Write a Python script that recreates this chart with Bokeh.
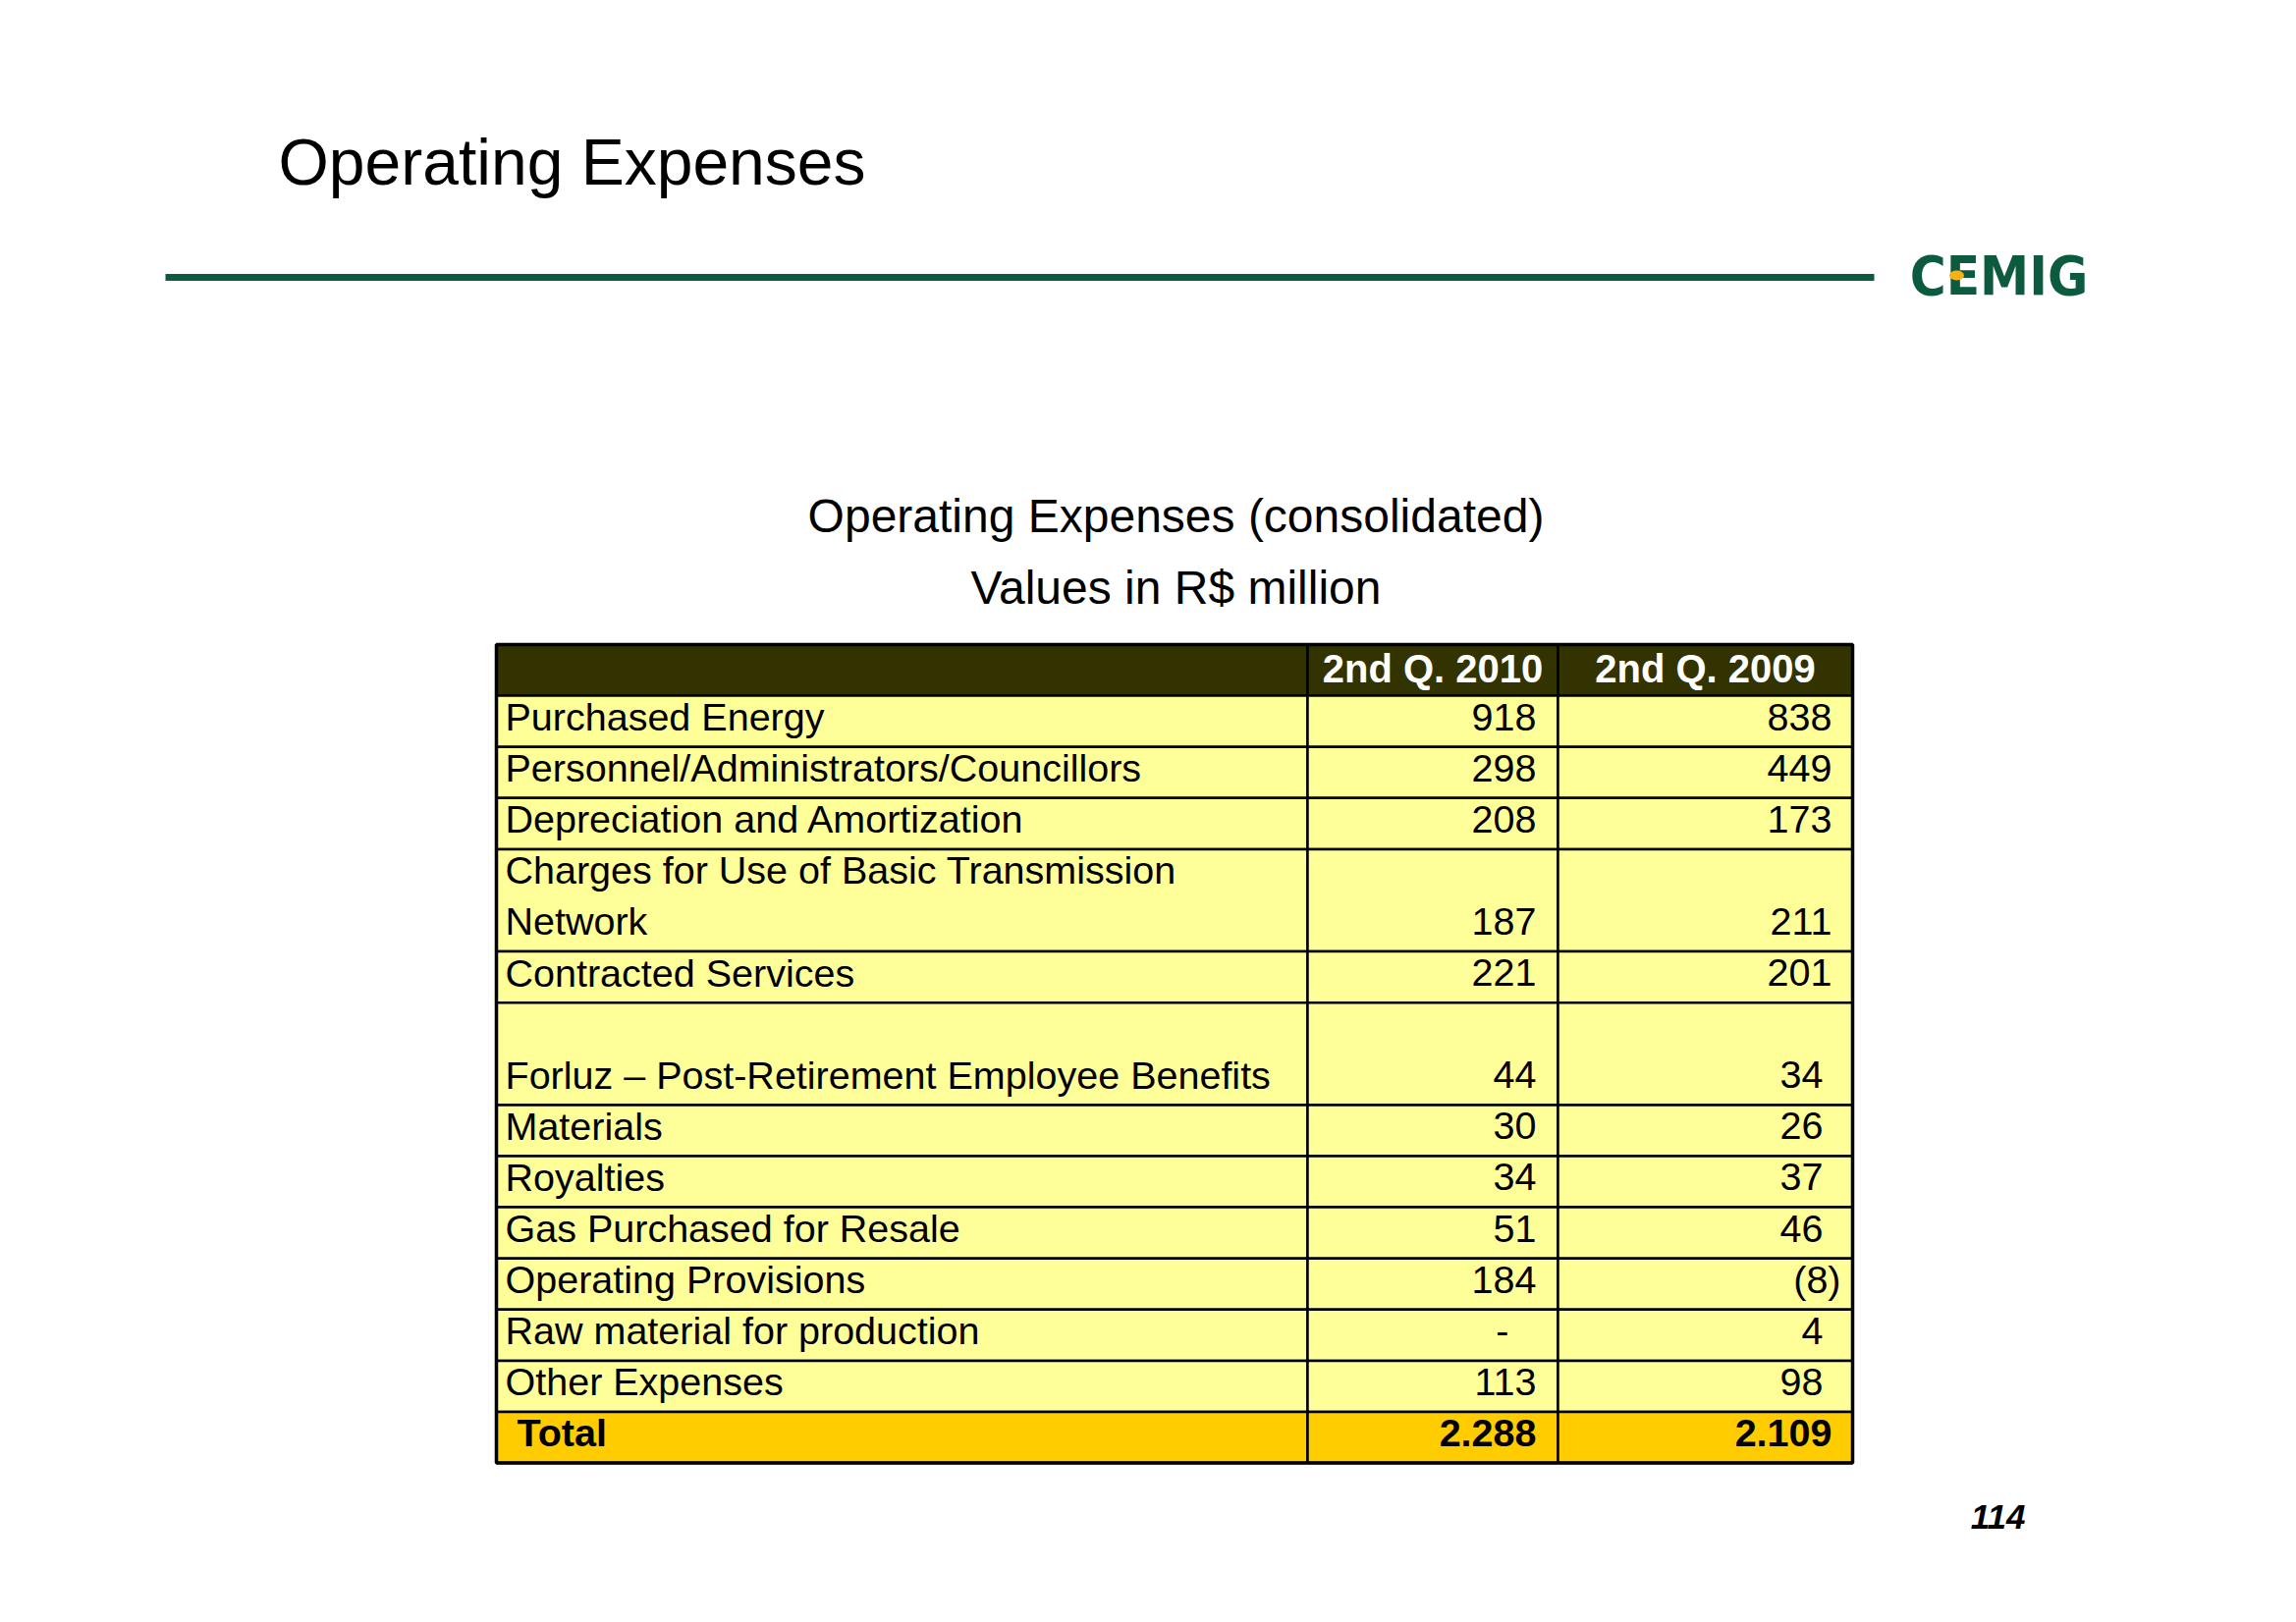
import numpy as np
from bokeh.plotting import figure
from bokeh.models import Range1d
from bokeh.core.properties import value
from bokeh.embed import file_html
from bokeh.resources import INLINE

# ---------------- data ----------------
title = "Operating Expenses"
subtitle = ["Operating Expenses (consolidated)", "Values in R$ million"]
columns = ["2nd Q. 2010", "2nd Q. 2009"]
categories = [
    "Purchased Energy",
    "Personnel/Administrators/Councillors",
    "Depreciation and Amortization",
    "Charges for Use of Basic Transmission\nNetwork",
    "Contracted Services",
    "\nForluz \u2013 Post-Retirement Employee Benefits",
    "Materials",
    "Royalties",
    "Gas Purchased for Resale",
    "Operating Provisions",
    "Raw material for production",
    "Other Expenses",
]
q2010 = [918, 298, 208, 187, 221, 44, 30, 34, 51, 184, None, 113]
q2009 = [838, 449, 173, 211, 201, 34, 26, 37, 46, -8, 4, 98]
total_label = "Total"
totals = [2288, 2109]
page_number = "114"
logo_text = "CEMIG"

# ---------------- styles ----------------
FONT = "Liberation Sans"
GREEN = "#0c5b3e"
HEAD_FILL = "#333300"
BODY_FILL = "#ffff99"
TOTAL_FILL = "#ffcc00"
col2_pad = [0, 0, 0, 0, 0, 9, 9, 9, 9, 0, 9, 9]
BASE_K = 0.37  # baseline correction (fraction of font size)


def fmt(v):
    if v is None:
        return "-"
    if v < 0:
        return "(" + f"{-v:,}".replace(",", ".") + ")"
    return f"{v:,}".replace(",", ".")


W, H = 2322, 1636
p = figure(width=W, height=H, x_range=Range1d(0, W), y_range=Range1d(H, 0),
           output_backend="svg", toolbar_location=None, min_border=0,
           x_axis_location=None, y_axis_location=None)
p.grid.visible = False
p.outline_line_color = None
p.background_fill_color = "white"
p.border_fill_color = "white"


def txt(x, y, t, size, align="left", color="black", style="normal", font=FONT):
    p.text(x=x, y=y, text=t, text_font=value(font), text_font_size=f"{size}px",
           text_font_style=style, text_color=color, text_baseline="alphabetic",
           text_align=align, y_offset=-BASE_K * size)


# title, rule, logo
txt([283], [189], [title], 66)
p.segment(x0=[168], y0=[282], x1=[1908], y1=[282], line_color=GREEN, line_width=7)
txt([2035], [301], [logo_text], 56, align="center", color=GREEN, style="bold",
    font="DejaVu Sans Condensed")
p.ellipse(x=[1992], y=[280], width=15, height=10, fill_color="#f5b21b", line_color=None)

# subtitles
txt([1197, 1197], [543, 616], subtitle, 48, align="center")

# ---------------- table ----------------
x_left, x_c1, x_c2, x_right = 505, 1331, 1586, 1886
top, unit = 656, 52.1
row_units = [1] + [c.count("\n") + 1 for c in categories] + [1]
edges = top + unit * np.concatenate([[0], np.cumsum(row_units)])

fills = [HEAD_FILL] + [BODY_FILL] * len(categories) + [TOTAL_FILL]
ql, qr, qt, qb, qf = [], [], [], [], []
for i, f in enumerate(fills):
    for a, b in [(x_left, x_c1), (x_c1, x_c2), (x_c2, x_right)]:
        ql.append(a); qr.append(b); qt.append(edges[i]); qb.append(edges[i + 1]); qf.append(f)
p.quad(left=ql, right=qr, top=qt, bottom=qb, fill_color=qf, line_color="black", line_width=2.5)
p.quad(left=[x_left], right=[x_right], top=[edges[0]], bottom=[edges[-1]],
       fill_color=None, line_color="black", line_width=3.5)

# header
hb = edges[1] - 13
txt([(x_c1 + x_c2) / 2, (x_c2 + x_right) / 2], [hb, hb], columns, 40,
    align="center", color="white", style="bold")

# body labels
lx, ly, lt = [], [], []
for i, c in enumerate(categories):
    lines = c.split("\n")
    bottom = edges[i + 2]
    n = len(lines)
    for k, ln in enumerate(lines):
        if ln:
            lx.append(x_left + 9)
            ly.append(bottom - 16 - unit * (n - 1 - k))
            lt.append(ln)
txt(lx, ly, lt, 39.5)

# body values
vx, vy, vt = [], [], []
for i, (a, b) in enumerate(zip(q2010, q2009)):
    base = edges[i + 2] - 16
    off_a = -28 if a is None else (9 if a < 0 else 0)
    vx.append(x_c2 - 22 + off_a); vy.append(base); vt.append(fmt(a))
    off_b = -col2_pad[i] + (-28 if b is None else (9 if b < 0 else 0))
    vx.append(x_right - 21 + off_b); vy.append(base); vt.append(fmt(b))
txt(vx, vy, vt, 39.5, align="right")

# total row
tb = edges[-1] - 16
txt([x_left + 21], [tb], [total_label], 39.5, style="bold")
txt([x_c2 - 22, x_right - 21], [tb, tb], [fmt(t) for t in totals], 39.5,
    align="right", style="bold")

# page number
txt([2062], [1557], [page_number], 35, align="right", style="bold italic")

open("out.html", "w").write(file_html(p, INLINE))
